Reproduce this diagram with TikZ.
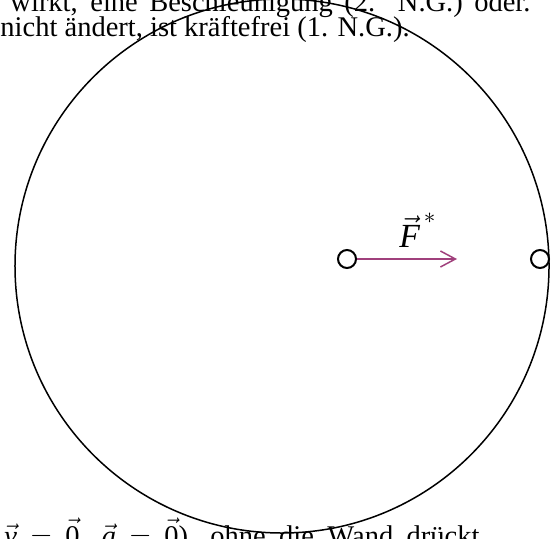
\documentclass[tikz,border=0pt]{standalone}
\usepackage{fontspec}
\setmainfont{Liberation Serif}
\usepackage{xcolor}
\usetikzlibrary{arrows.meta,positioning}
\definecolor{forcecol}{HTML}{A0407C}

\begin{document}
\begin{tikzpicture}[
  x=0.4pt,y=-0.4pt,
  txt/.style={inner sep=0pt,anchor=base west,font=\fontsize{11.4}{13}\selectfont},
  mass/.style={circle,draw,line width=0.8pt,fill=white,minimum size=7.2pt,inner sep=0pt},
  force/.style={draw=forcecol,line width=0.6pt,-{Straight Barb[length=6pt,width=6.4pt,line width=0.6pt]}}
]
\useasboundingbox (0,0) rectangle (551,538);
\clip (0,0) rectangle (551,538);
% text of the page around the figure
\node[txt] (line1) at (10,12) {\makebox[208pt][s]{wirkt, eine Beschleunigung (2. N.G.) oder.}};
\node[txt] (line2) at (0,37) {nicht ändert, ist kräftefrei (1. N.G.).};
\node[txt] (line3) at (4,545) {\makebox[190pt][s]{$\vec{\textit{v}}$ $=$ $\vec{\textrm{0}}$, $\vec{\textit{a}}$ $=$ $\vec{\textrm{0}}$), ohne die Wand drückt}};
% turntable
\node[circle,draw,line width=0.6pt,minimum size=213.6pt,inner sep=0pt] (disc) at (282,266) {};
\node[mass] (ball) at (347,259) {};
\node[mass] (wallball) at (540,259) {};
\coordinate (tip) at (457,259);
\draw[force] (ball) -- (tip);
\node[font=\fontsize{13.5}{15}\selectfont,inner sep=0pt,anchor=base] (flabel) at (418,248) {$\vec{\textit{F}}^{\,*}$};
\end{tikzpicture}
\end{document}
